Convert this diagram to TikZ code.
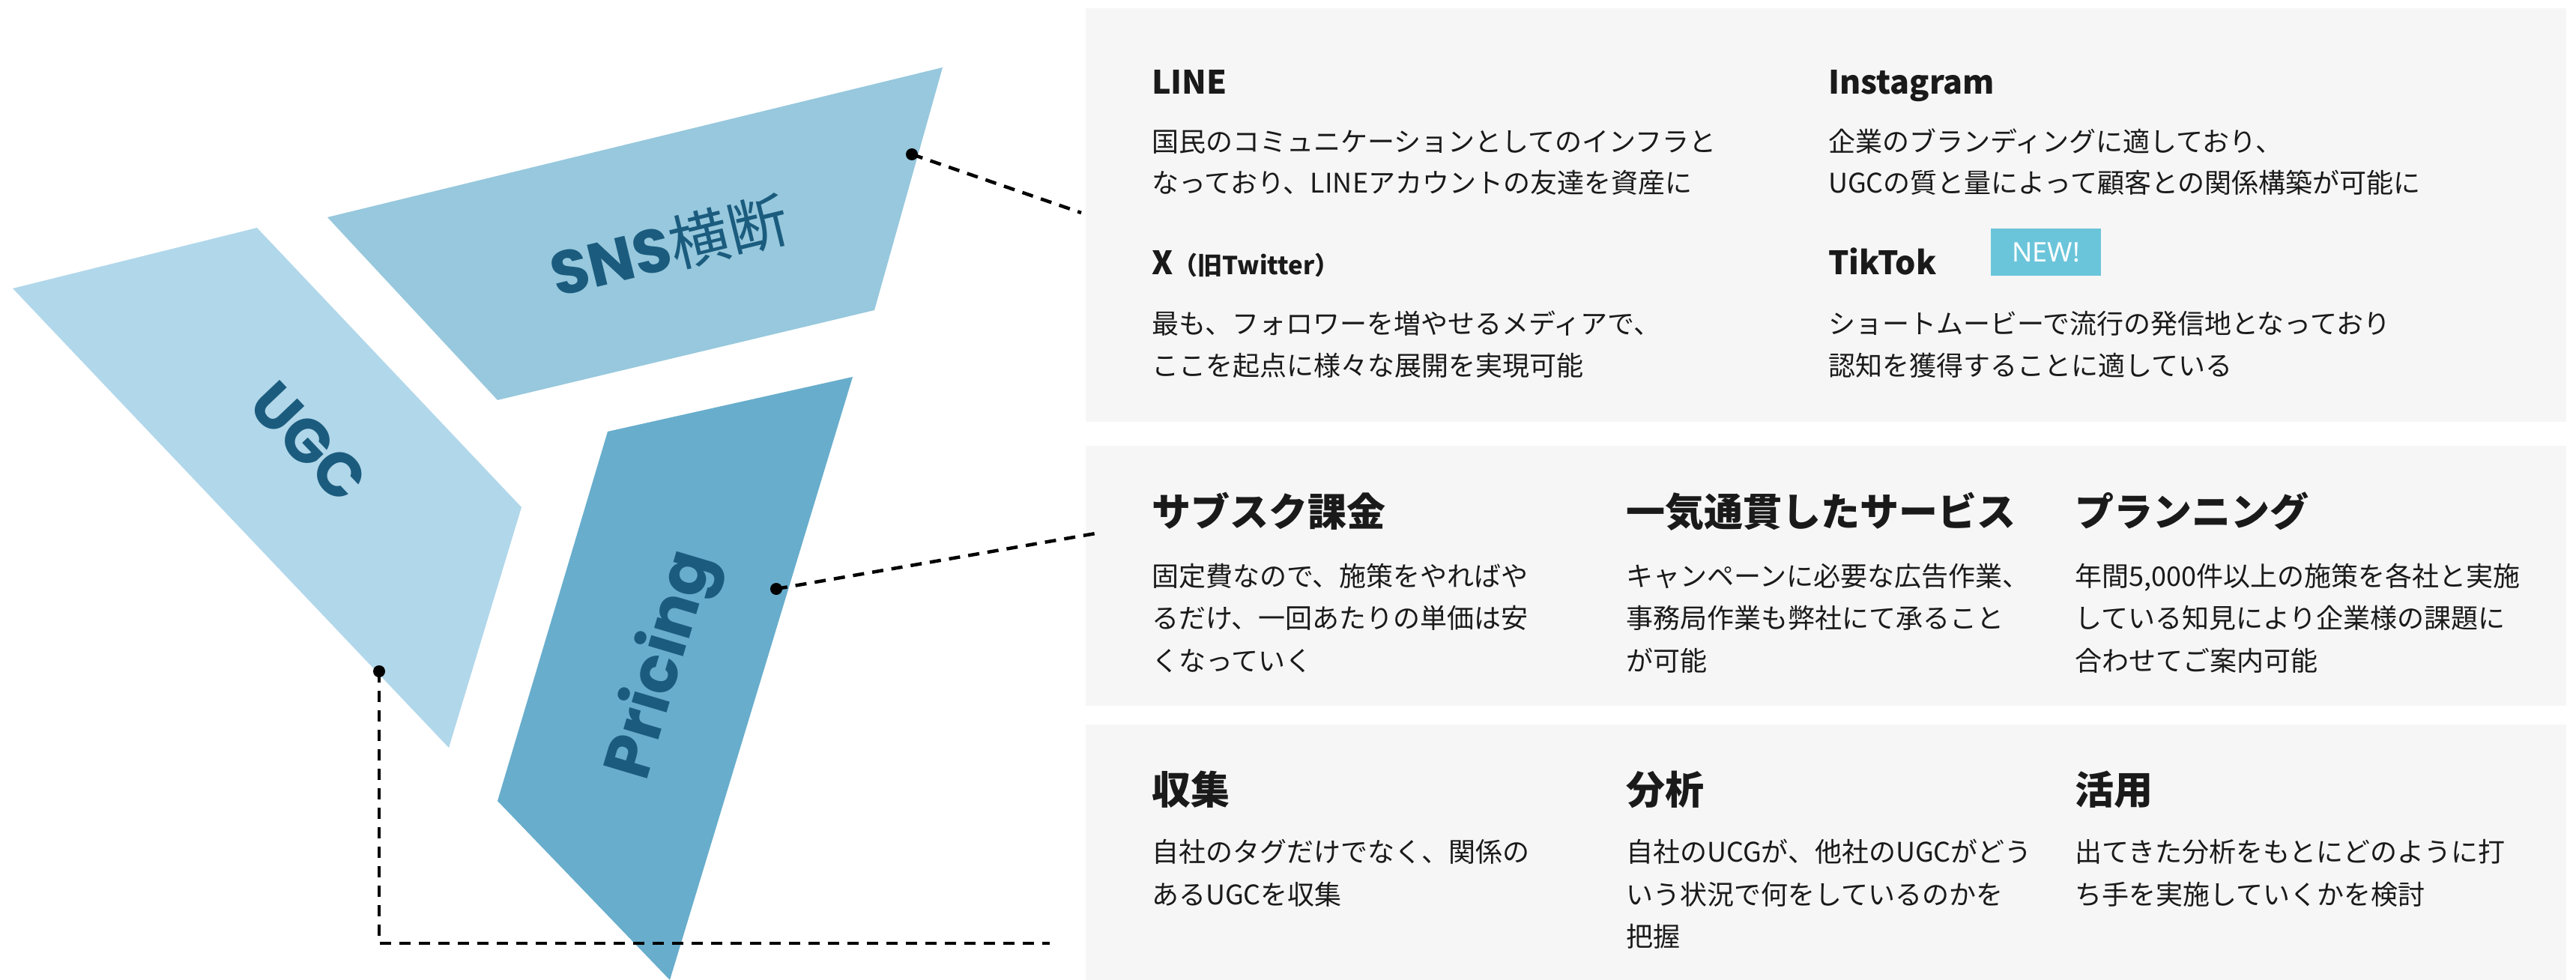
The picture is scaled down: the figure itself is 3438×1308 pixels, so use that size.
\documentclass[tikz,border=0pt]{standalone}
\usepackage{fontspec}
\setmainfont{Noto Sans CJK JP}
\newfontfamily\pop{Poppins}
\newfontfamily\latin{Noto Sans}
\definecolor{panelgray}{HTML}{F6F6F6}
\definecolor{sns}{HTML}{97C8DD}
\definecolor{ugc}{HTML}{B1D7EA}
\definecolor{pri}{HTML}{68ADCC}
\definecolor{labblue}{HTML}{1B5C7E}
\definecolor{newcyan}{HTML}{6BC5DA}
\definecolor{txt}{HTML}{1A1A1A}
\begin{document}
\begin{tikzpicture}[x=1pt,y=-1pt,
  panel/.style={fill=panelgray,draw=none},
  head/.style={anchor=base west,inner sep=0pt,text=txt,font=\fontsize{52}{52}\selectfont\bfseries},
  headS/.style={anchor=base west,inner sep=0pt,text=txt,font=\fontsize{43}{43}\selectfont\bfseries},
  body/.style={anchor=base west,inner sep=0pt,text=txt,font=\fontsize{36}{36}\selectfont},
  conn/.style={line width=4.5pt,dash pattern=on 15pt off 11pt},
  dot/.style={circle,fill=black,minimum size=16pt,inner sep=0pt},
  lab/.style={text=labblue,inner sep=0pt,font=\pop\bfseries\fontsize{82}{82}\selectfont}
]
\useasboundingbox (0,0) rectangle (3438,1308);
% panels
\fill[panel] (1449,11) rectangle (3425,563);
\fill[panel] (1449,595) rectangle (3425,942);
\fill[panel] (1449,967) rectangle (3425,1308);
% shapes
\fill[sns] (437,290) -- (1258,90) -- (1167,414) -- (664,534) -- cycle;
\fill[ugc] (17,385) -- (343,304) -- (696,677) -- (599,998) -- cycle;
\fill[pri] (811,576) -- (1138,503) -- (894,1308) -- (664,1069) -- cycle;
% labels in shapes
\node[lab,rotate=13.7] (lsns) at (893,329) {SNS{\fontspec{Noto Sans CJK JP}\mdseries\fontsize{80}{80}\selectfont 横断}};
\node[lab,rotate=-46.5] (lugc) at (412,590) {UGC};
\node[lab,rotate=73.4,font=\pop\bfseries\fontsize{87}{87}\selectfont] (lpri) at (885,888) {Pricing};
% connectors
\node[dot] (d1) at (1217,206) {};
\coordinate (e1) at (1443,284);
\node[dot] (d2) at (1036,786) {};
\coordinate (e2) at (1462,712);
\node[dot] (d3) at (506,896) {};
\coordinate (c3) at (506,1259);
\coordinate (e3) at (1401,1259);
\draw[conn] (d1.center) -- (e1);
\draw[conn] (d2.center) -- (e2);
\draw[conn] (d3.center) -- (c3) -- (e3);
% top panel
\node[headS] (hline) at (1537,126) {LINE};
\node[body] (bline1) at (1537,203) {国民のコミュニケーションとしてのインフラと};
\node[body] (bline2) at (1537,258) {なっており、LINEアカウントの友達を資産に};
\node[headS] (hinsta) at (2440,126) {Instagram};
\node[body] (binsta1) at (2440,203) {企業のブランディングに適しており、};
\node[body] (binsta2) at (2440,258) {UGCの質と量によって顧客との関係構築が可能に};
\node[headS] (hx) at (1537,366) {X{\fontsize{33}{33}\selectfont （旧Twitter）}};
\node[body] (bx1) at (1537,445) {最も、フォロワーを増やせるメディアで、};
\node[body] (bx2) at (1537,501) {ここを起点に様々な展開を実現可能};
\node[headS] (htik) at (2440,366) {TikTok};
\node[fill=newcyan,minimum width=147pt,minimum height=63pt,inner sep=0pt,text=white,font=\latin\fontsize{36}{36}\selectfont] (new) at (2730.5,336.5) {NEW!};
\node[body] (btik1) at (2440,445) {ショートムービーで流行の発信地となっており};
\node[body] (btik2) at (2440,501) {認知を獲得することに適している};
% middle panel
\node[head] (hsub) at (1537,702) {サブスク課金};
\node[body] (bsub1) at (1537,782) {固定費なので、施策をやればや};
\node[body] (bsub2) at (1537,838) {るだけ、一回あたりの単価は安};
\node[body] (bsub3) at (1537,895) {くなっていく};
\node[head] (hserv) at (2170,702) {一気通貫したサービス};
\node[body] (bserv1) at (2170,782) {キャンペーンに必要な広告作業、};
\node[body] (bserv2) at (2170,838) {事務局作業も弊社にて承ること};
\node[body] (bserv3) at (2170,895) {が可能};
\node[head] (hplan) at (2769,702) {プランニング};
\node[body] (bplan1) at (2769,782) {年間5,000件以上の施策を各社と実施};
\node[body] (bplan2) at (2769,838) {している知見により企業様の課題に};
\node[body] (bplan3) at (2769,895) {合わせてご案内可能};
% bottom panel
\node[head] (hcol) at (1537,1073) {収集};
\node[body] (bcol1) at (1537,1150) {自社のタグだけでなく、関係の};
\node[body] (bcol2) at (1537,1207) {あるUGCを収集};
\node[head] (hana) at (2170,1073) {分析};
\node[body] (bana1) at (2170,1150) {自社のUCGが、他社のUGCがどう};
\node[body] (bana2) at (2170,1207) {いう状況で何をしているのかを};
\node[body] (bana3) at (2170,1263) {把握};
\node[head] (huse) at (2769,1073) {活用};
\node[body] (buse1) at (2769,1150) {出てきた分析をもとにどのように打};
\node[body] (buse2) at (2769,1207) {ち手を実施していくかを検討};
\end{tikzpicture}
\end{document}
